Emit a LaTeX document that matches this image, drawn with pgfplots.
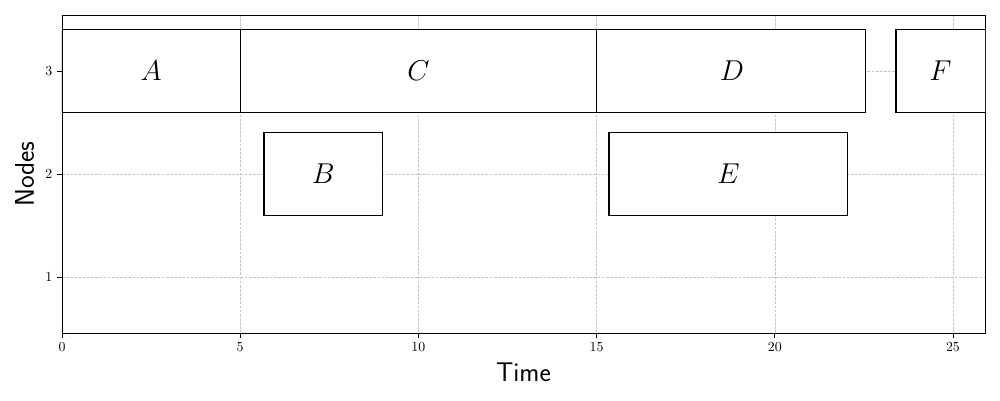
\documentclass[border=0pt]{standalone}
\usepackage{pgfplots}
\pgfplotsset{compat=1.18}
\usepackage{pgfplotstable}
\begin{document}
\pgfplotstableread{
x y label
2.5 3 A
7.33 2 B
10 3 C
18.8 3 D
18.7 2 E
24.65 3 F
}\labels
\begin{tikzpicture}
\useasboundingbox (-44.8pt,-48.4pt) rectangle (677.8pt,240.8pt);
\begin{axis}[
  scale only axis, width=667pt, height=230pt,
  at={(0,0)}, anchor=south west,
  xmin=0, xmax=25.9, ymin=0.456, ymax=3.544,
  xtick={0,5,10,15,20,25}, ytick={1,2,3},
  xtick pos=left, ytick pos=left,
  tick align=outside, major tick length=3.5pt,
  tick style={black, line width=0.6pt},
  ticklabel style={font=\fontsize{10}{12}\selectfont},
  grid=major, grid style={dash pattern=on 2pt off 1pt, gray!45, line width=0.35pt},
  axis line style={line width=0.6pt},
  xlabel={\fontsize{19.5}{22}\selectfont\sffamily Time},
  ylabel={\fontsize{19.5}{22}\selectfont\sffamily Nodes},
  xlabel style={at={(axis description cs:0.5,-0.122)}, anchor=center},
  ylabel style={at={(axis description cs:-0.0405,0.5)}, anchor=center},
  clip=true,
]
\addplot[draw=black, fill=white, line width=0.85pt] coordinates {(0,2.6) (5,2.6) (5,3.4) (0,3.4)} -- cycle;
\addplot[draw=black, fill=white, line width=0.85pt] coordinates {(5,2.6) (15,2.6) (15,3.4) (5,3.4)} -- cycle;
\addplot[draw=black, fill=white, line width=0.85pt] coordinates {(15,2.6) (22.55,2.6) (22.55,3.4) (15,3.4)} -- cycle;
\addplot[draw=black, fill=white, line width=0.85pt] coordinates {(23.4,2.6) (27,2.6) (27,3.4) (23.4,3.4)} -- cycle;
\addplot[draw=black, fill=white, line width=0.85pt] coordinates {(5.67,1.6) (9.0,1.6) (9.0,2.4) (5.67,2.4)} -- cycle;
\addplot[draw=black, fill=white, line width=0.85pt] coordinates {(15.35,1.6) (22.05,1.6) (22.05,2.4) (15.35,2.4)} -- cycle;
\addplot[only marks, mark=none, nodes near coords={$\pgfplotspointmeta$}, point meta=explicit symbolic,
  every node near coord/.style={anchor=center, font=\fontsize{20}{24}\selectfont}]
  table[x=x, y=y, meta=label] {\labels};
\end{axis}
\end{tikzpicture}
\end{document}
